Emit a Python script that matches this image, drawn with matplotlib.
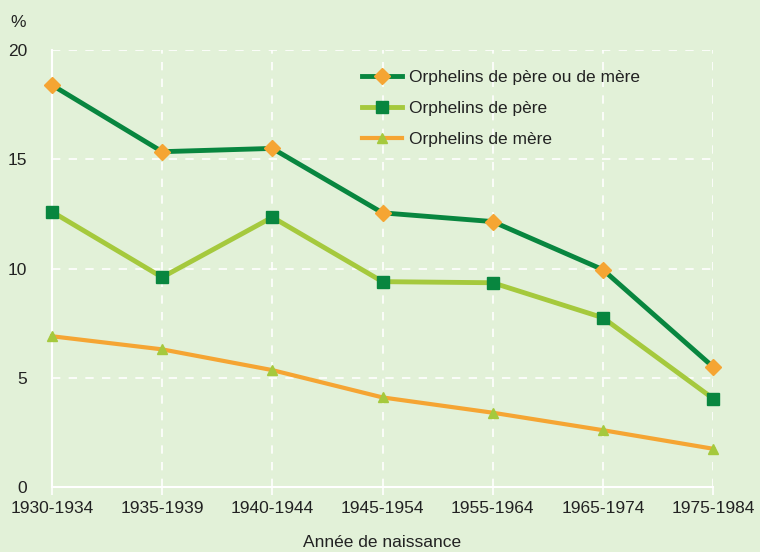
import matplotlib
matplotlib.use("Agg")
from matplotlib import pyplot as plt

periodes = ['1930-1934', '1935-1939', '1940-1944', '1945-1954', '1955-1964', '1965-1974', '1975-1984']
pere_ou_mere = [18.4, 15.35, 15.5, 12.55, 12.15, 9.95, 5.5]
pere = [12.6, 9.6, 12.35, 9.4, 9.35, 7.75, 4.05]
mere = [6.9, 6.3, 5.35, 4.1, 3.4, 2.6, 1.75]

bg = '#e2f1d8'
vert_fonce = '#08863f'
vert_clair = '#a5c93d'
orange = '#f5a533'

plt.rcParams['font.family'] = ['Liberation Sans', 'DejaVu Sans']

fig = plt.figure(figsize=(7.6, 5.52), dpi=100, facecolor=bg)
ax = fig.add_axes([0.0684, 0.1178, 0.8698, 0.7914], facecolor=bg)

x = list(range(len(periodes)))
ax.plot(x, pere_ou_mere, '-D', color=vert_fonce, lw=3.5, ms=8, mfc=orange, mec=orange,
        label='Orphelins de père ou de mère', zorder=5, clip_on=False)
ax.plot(x, pere, '-s', color=vert_clair, lw=3.5, ms=8, mfc=vert_fonce, mec=vert_fonce,
        label='Orphelins de père', zorder=4, clip_on=False)
ax.plot(x, mere, '-^', color=orange, lw=3, ms=7, mfc=vert_clair, mec=vert_clair,
        label='Orphelins de mère', zorder=3, clip_on=False)

ax.set_xlim(0, len(periodes) - 1)
ax.set_ylim(0, 20)
ax.set_xticks(x)
ax.set_xticklabels(periodes, fontsize=12.5, color='#222222')
ax.set_yticks([0, 5, 10, 15, 20])
ax.tick_params(axis='y', length=0, labelsize=12.5, labelcolor='#222222', pad=18)
ax.tick_params(axis='x', length=6, color='white', width=1.2, pad=4)

for yv in [5, 10, 15, 20]:
    ax.axhline(yv, color='white', lw=1.2, ls=(0, (5, 5)), zorder=1)
for xv in x[1:]:
    ax.axvline(xv, color='white', lw=1.2, ls=(0, (5, 5)), zorder=1)

for s in ['top', 'right']:
    ax.spines[s].set_visible(False)
for s in ['left', 'bottom']:
    ax.spines[s].set_color('white')
    ax.spines[s].set_linewidth(1.5)

ax.text(-0.04, 1.045, '%', transform=ax.transAxes, fontsize=12.5, color='#222222',
        ha='right', va='bottom')
ax.set_xlabel('Année de naissance', fontsize=12.5, color='#222222', labelpad=14)

leg = ax.legend(loc='upper left', bbox_to_anchor=(0.445, 0.99), frameon=False, fontsize=12.5,
                handlelength=2.3, handletextpad=0.4, labelspacing=0.9)
for t in leg.get_texts():
    t.set_color('#222222')

fig.savefig('out.png', dpi=100, facecolor=bg)
